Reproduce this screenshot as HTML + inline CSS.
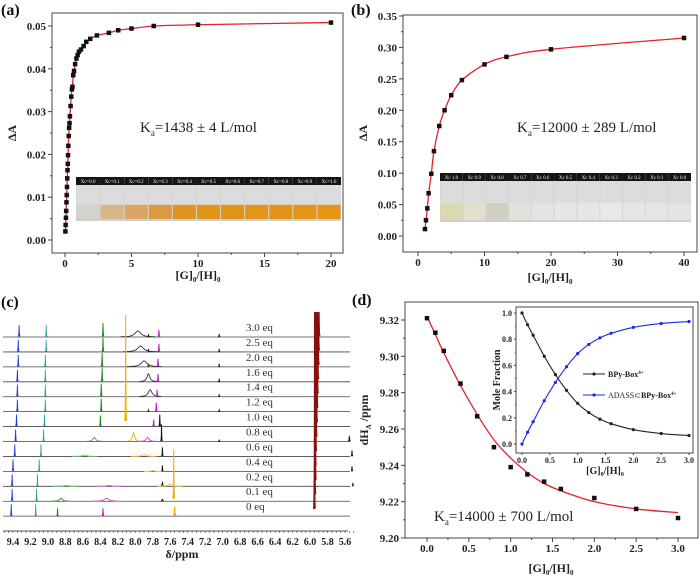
<!DOCTYPE html>
<html><head><meta charset="utf-8">
<style>
html,body{margin:0;padding:0;background:#fff;}
svg{display:block;font-family:"Liberation Serif",serif;}
.tk{font-size:11px;font-weight:bold;fill:#222;}
.tks{font-size:8px;font-weight:bold;fill:#222;}
.ttl{font-size:12px;font-weight:bold;fill:#222;}
.pl{font-size:16px;font-weight:bold;fill:#111;}
.ka{font-size:15px;fill:#222;}
</style></head>
<body>
<svg id="fig" width="700" height="577" viewBox="0 0 700 577"></svg>
<script>
// ---------- data ----------
const aX=[0.03,0.05,0.07,0.09,0.11,0.13,0.15,0.17,0.19,0.21,0.23,0.25,0.28,0.31,0.34,0.37,0.42,0.47,0.52,0.56,0.62,0.68,0.76,0.86,0.95,1.05,1.2,1.4,1.6,1.9,2.4,3.3,4.0,5.0,6.67,10,20];
const aY=[0.002,0.0035,0.0052,0.0068,0.0088,0.0105,0.0124,0.0144,0.0163,0.0178,0.0198,0.022,0.0243,0.0262,0.0273,0.0289,0.0313,0.0335,0.0352,0.0358,0.0385,0.0395,0.0411,0.0424,0.0432,0.0440,0.0445,0.0453,0.0463,0.0470,0.0478,0.0484,0.049,0.0494,0.0500,0.0503,0.0508];
const bX=[1.05,1.2,1.4,1.6,2.0,2.4,3.2,4.0,5.0,6.6,10,13.3,20,40];
const bY=[0.011,0.025,0.044,0.068,0.099,0.135,0.175,0.2,0.224,0.248,0.273,0.285,0.297,0.315];
const dX=[0,0.1,0.2,0.4,0.6,0.8,1.0,1.2,1.4,1.6,2.0,2.5,3.0];
const dY=[9.321,9.313,9.303,9.285,9.267,9.250,9.239,9.235,9.231,9.227,9.222,9.216,9.211];
const dFit=[9.322,9.312,9.302,9.284,9.268,9.254,9.244,9.236,9.230,9.226,9.220,9.216,9.214];
const inBlack=[1.0,0.91,0.83,0.67,0.53,0.41,0.31,0.24,0.19,0.155,0.11,0.08,0.065];
const inBlue=[0.0,0.09,0.17,0.33,0.47,0.59,0.69,0.76,0.81,0.845,0.89,0.92,0.935];
const eqLabels=["3.0 eq","2.5 eq","2.0 eq","1.6 eq","1.4 eq","1.2 eq","1.0 eq","0.8 eq","0.6 eq","0.4 eq","0.2 eq","0.1 eq","0 eq"];
const bluePos=[9.33,9.34,9.34,9.35,9.35,9.35,9.36,9.37,9.38,9.40,9.41,9.41,9.42];
const tealPos=[9.02,9.02,9.03,9.03,9.03,9.03,9.04,9.05,9.08,9.10,9.12,9.13,9.14];
const brownPos=[5.895,5.90,5.905,5.91,5.915,5.92,5.925,5.93,5.935,5.94,5.94,5.945,5.95];
// extra peaks: [row, ppm, height, width, color]
const extraPeaks=[
[0,8.37,14,0.006,"#1a8a1a"],[1,8.37,14,0.006,"#1a8a1a"],[2,8.38,14,0.006,"#1a8a1a"],[3,8.38,14,0.006,"#1a8a1a"],[4,8.39,13,0.006,"#1a8a1a"],[5,8.39,13,0.006,"#1a8a1a"],[6,8.40,11,0.006,"#1a8a1a"],[7,8.47,4,0.02,"#3aa83a"],[8,8.58,1.5,0.03,"#6c6"],[10,8.79,1,0.03,"#6c6"],[11,8.85,3,0.02,"#3a8a3a"],[12,8.89,8,0.006,"#1a8a1a"],
[0,7.97,6,0.04,"#333"],[1,7.94,6,0.04,"#333"],[2,7.90,6,0.04,"#333"],[3,7.85,8,0.02,"#333"],[4,7.83,7,0.025,"#333"],
[0,7.85,3,0.005,"#222"],[1,7.85,3,0.005,"#222"],[2,7.85,3,0.005,"#222"],[5,7.85,2,0.005,"#222"],
[0,7.73,7,0.008,"#c020c0"],[1,7.73,8,0.008,"#c020c0"],[2,7.74,8,0.008,"#c020c0"],[3,7.74,8,0.008,"#c020c0"],[4,7.75,7,0.008,"#c020c0"],[5,7.76,9,0.008,"#c020c0"],[6,7.79,7,0.008,"#c020c0"],[7,7.86,4,0.02,"#c040c0"],[10,8.30,1,0.03,"#d6d"],[11,8.33,3,0.03,"#c4c"],[12,8.37,8,0.007,"#c020c0"],
[6,7.72,12,0.006,"#111"],[7,7.70,17,0.005,"#111"],[8,7.69,9,0.005,"#111"],[9,7.69,6,0.005,"#111"],[10,7.69,4,0.01,"#111"],[11,7.69,2,0.01,"#111"],
[0,7.04,3,0.005,"#111"],[1,7.04,3,0.005,"#111"],[2,7.04,3,0.005,"#111"],[3,7.04,3,0.005,"#111"],[4,7.04,2,0.005,"#111"],[5,7.04,2,0.005,"#111"],[7,7.04,1.5,0.005,"#111"],
[6,8.11,112,0.006,"#f0b000"],[7,8.02,9,0.015,"#f0b000"],[8,7.90,2,0.03,"#f5c040"],[9,7.80,1,0.02,"#f5d060"],[11,7.56,52,0.006,"#f0b000"],[12,7.55,10,0.01,"#f0b000"],[10,7.60,2,0.03,"#f0c040"],
[7,5.55,5,0.008,"#111"],[8,5.52,6,0.006,"#111"],[9,5.52,5,0.006,"#111"],[10,5.51,3,0.006,"#111"]];
const photoA=["Xc=0.0","Xc=0.1","Xc=0.2","Xc=0.3","Xc=0.4","Xc=0.5","Xc=0.6","Xc=0.7","Xc=0.8","Xc=0.9","Xc=1.0"];
const photoAcol=["#d4d2cf","#d9b68a","#dba565","#dc9a40","#de9520","#e09518","#e09418","#e29518","#e29418","#e39518","#e49618"];
const photoB=["Xc 1.0","Xc 0.9","Xc 0.8","Xc 0.7","Xc 0.6","Xc 0.5","Xc 0.4","Xc 0.3","Xc 0.2","Xc 0.1","Xc 0.0"];
const photoBcol=["#dcd8b0","#e2e0cc","#d2d0c2","#e2e2dc","#e4e4e2","#e6e6e6","#e6e6e6","#e8e8e8","#e6e6e6","#e6e6e6","#e4e4e4"];

// ---------- helpers ----------
const NS="http://www.w3.org/2000/svg";
const svg=document.getElementById('fig');
function el(tag,attrs,parent){const e=document.createElementNS(NS,tag);for(const k in attrs)e.setAttribute(k,attrs[k]);(parent||svg).appendChild(e);return e;}
function txt(s,attrs,parent){const e=el('text',attrs,parent);e.textContent=s;return e;}
function lin(d0,d1,r0,r1){return v=>r0+(v-d0)/(d1-d0)*(r1-r0);}
function smooth(pts){let d="M"+pts[0][0]+","+pts[0][1];for(let i=0;i<pts.length-1;i++){const p0=pts[i-1]||pts[i],p1=pts[i],p2=pts[i+1],p3=pts[i+2]||p2;d+=" C"+(p1[0]+(p2[0]-p0[0])/6)+","+(p1[1]+(p2[1]-p0[1])/6)+" "+(p2[0]-(p3[0]-p1[0])/6)+","+(p2[1]-(p3[1]-p1[1])/6)+" "+p2[0]+","+p2[1];}return d;}
function axes(g,fx,fy,box,xt,yt,xmin,ymin,fmtx,fmty,cls,tl){
  const f=el('rect',{x:box[0],y:box[1],width:box[2]-box[0],height:box[3]-box[1],fill:'none',stroke:'#444','stroke-width':1},g);
  
  xt.forEach(v=>{const x=fx(v);el('line',{x1:x,x2:x,y1:box[3],y2:box[3]+tl,stroke:'#444'},g);
    const t=txt(fmtx(v),{x:x,y:box[3]+tl+(cls=='tk'?10:8),'text-anchor':'middle',class:cls},g);});
  xmin.forEach(v=>{const x=fx(v);el('line',{x1:x,x2:x,y1:box[3],y2:box[3]+tl/2,stroke:'#444'},g);});
  yt.forEach(v=>{const y=fy(v);el('line',{x1:box[0]-tl,x2:box[0],y1:y,y2:y,stroke:'#444'},g);
    const t=txt(fmty(v),{x:box[0]-tl-2,y:y+(cls=='tk'?4:3),'text-anchor':'end',class:cls},g);});
  ymin.forEach(v=>{const y=fy(v);el('line',{x1:box[0]-tl/2,x2:box[0],y1:y,y2:y,stroke:'#444'},g);});
}
function sq(g,x,y,s,c){const r=el('rect',{x:x-s/2,y:y-s/2,width:s,height:s,fill:c||'#111'},g);return r;}
function photo(g,x0,y0,w,h,labels,cols,name){
  const pg=el('g',{},g);
  const cw=w/labels.length;
  labels.forEach((l,i)=>{const x=x0+i*cw;
    el('rect',{x:x,y:y0,width:cw,height:h,fill:'#cfcfcf'},pg);
    el('rect',{x:x+0.5,y:y0+8,width:cw-1,height:h*0.45,fill:'#dcdcdc'},pg);
    el('rect',{x:x+0.5,y:y0+8+h*0.45,width:cw-1,height:h-8-h*0.45-2,fill:cols[i]},pg);
    el('rect',{x:x,y:y0,width:cw,height:8,fill:'#151515'},pg);
    txt(l,{x:x+cw/2,y:y0+6,'text-anchor':'middle','font-size':'5px',fill:'#eee'},pg);});
}
// ---------- panel a ----------
(function(){
const g=el('g',{});
const fx=lin(0,20,65,331),fy=lin(0,0.05,240,26);
axes(g,fx,fy,[52,13,343,253],[0,5,10,15,20],[0,0.01,0.02,0.03,0.04,0.05],[2.5,7.5,12.5,17.5],[0.005,0.015,0.025,0.035,0.045],v=>String(v),v=>v.toFixed(2),'tk',4);
photo(g,76,177,265,44,photoA,photoAcol,'vial-photo-a');
const p=el('path',{d:smooth(aX.map((x,i)=>[fx(x),fy(aY[i])])),fill:'none',stroke:'#e8202a','stroke-width':1.3},g);

aX.forEach((x,i)=>{const r=sq(g,fx(x),fy(aY[i]),4.5);});
let t=txt('(a)',{x:1,y:15,class:'pl'},g);
t=txt('',{x:140,y:132,class:'ka'},g);t.innerHTML='K<tspan font-size="9" dy="4">a</tspan><tspan dy="-4">=1438 ± 4 L/mol</tspan>';
t=txt('ΔA',{x:16,y:133,class:'ttl',transform:'rotate(-90 16 133)','text-anchor':'middle'},g);
t=txt('',{x:198,y:279,class:'ttl','text-anchor':'middle'},g);t.innerHTML='[G]<tspan font-size="7" dy="3">0</tspan><tspan dy="-3">/[H]</tspan><tspan font-size="7" dy="3">0</tspan>';
})();
// ---------- panel b ----------
(function(){
const g=el('g',{});
const fx=lin(0,40,418,684),fy=lin(0,0.35,236,16);
axes(g,fx,fy,[403,15,697,252],[0,10,20,30,40],[0,0.05,0.1,0.15,0.2,0.25,0.3,0.35],[5,15,25,35],[0.025,0.075,0.125,0.175,0.225,0.275,0.325],v=>String(v),v=>v.toFixed(2),'tk',4);
photo(g,440,173,251,49,photoB,photoBcol,'vial-photo-b');
const p=el('path',{d:smooth(bX.map((x,i)=>[fx(x),fy(bY[i])])),fill:'none',stroke:'#e8202a','stroke-width':1.3},g);

bX.forEach((x,i)=>{const r=sq(g,fx(x),fy(bY[i]),4.5);});
let t=txt('(b)',{x:351,y:15,class:'pl'},g);
t=txt('',{x:517,y:132,class:'ka'},g);t.innerHTML='K<tspan font-size="9" dy="4">a</tspan><tspan dy="-4">=12000 ± 289 L/mol</tspan>';
t=txt('ΔA',{x:367,y:133,class:'ttl',transform:'rotate(-90 367 133)','text-anchor':'middle'},g);
t=txt('',{x:550,y:281,class:'ttl','text-anchor':'middle'},g);t.innerHTML='[G]<tspan font-size="7" dy="3">0</tspan><tspan dy="-3">/[H]</tspan><tspan font-size="7" dy="3">0</tspan>';
})();
// ---------- panel c ----------
(function(){
const g=el('g',{});
const fx=lin(9.4,5.6,13,345);
const rowY=i=>337+i*14.93;
function peakPath(c,h,w0,base){const w=w0<0.012?w0*0.45:w0;let pts=[];const hw=w<0.012?Math.max(w*4,0.012):w*5;for(let p=c+hw;p>=c-hw;p-=hw/20){const y=base-h/(1+Math.pow((p-c)/w,2));pts.push(fx(p).toFixed(2)+","+y.toFixed(2));}return "M"+pts.join(" L");}
eqLabels.forEach((l,i)=>{const b=rowY(i);
  const ln=el('line',{x1:3,x2:350,y1:b,y2:b,stroke:'#444','stroke-width':0.8},g);
  const t=txt(l,{x:246,y:b-6,'font-size':'11px',fill:'#333'},g);
  [[bluePos[i],12,0.006,'#1a3ae0'],[tealPos[i],12,0.005,'#2aa0a0'],[brownPos[i],b-312,0.005,'#8a1010']].forEach(pk=>{
    const p=el('path',{d:peakPath(pk[0],pk[1],pk[2],b),fill:pk[3],stroke:pk[3],'stroke-width':0.8},g);});
});
extraPeaks.forEach(pk=>{const b=rowY(pk[0]);
  const p=el('path',{d:peakPath(pk[1],pk[2],pk[3],b),fill:pk[2]>4&&pk[3]<0.012?pk[4]:'none',stroke:pk[4],'stroke-width':0.9},g);
  });
el('line',{x1:3,x2:348,y1:531,y2:531,stroke:'#555'},g);
for(let k=0;k<=80;k++){const v=9.5-k*0.05;if(v<5.5)break;const x=fx(v);el('line',{x1:x,x2:x,y1:531,y2:533,stroke:'#555','stroke-width':0.7},g);}
for(let k=0;k<=19;k++){const v=9.4-k*0.2;const t=txt(v.toFixed(1),{x:fx(v),y:545,'text-anchor':'middle','font-size':'10px','font-weight':'bold',fill:'#222'},g);}
let t=txt('δ/ppm',{x:182,y:558,class:'ttl','text-anchor':'middle'},g);
t=txt('(c)',{x:1,y:307,class:'pl'},g);
})();
// ---------- panel d ----------
(function(){
const g=el('g',{});
const fx=lin(0,3,427,678),fy=lin(9.20,9.32,538,320);
axes(g,fx,fy,[405,302,698,538],[0,0.5,1,1.5,2,2.5,3],[9.20,9.22,9.24,9.26,9.28,9.30,9.32],[0.25,0.75,1.25,1.75,2.25,2.75],[9.21,9.23,9.25,9.27,9.29,9.31],v=>v.toFixed(1),v=>v.toFixed(2),'tk',4);
const p=el('path',{d:smooth(dX.map((x,i)=>[fx(x),fy(dFit[i])])),fill:'none',stroke:'#e8202a','stroke-width':1.3},g);

dX.forEach((x,i)=>{const r=sq(g,fx(x),fy(dY[i]),4.5);});
let t=txt('(d)',{x:352,y:305,class:'pl'},g);
t=txt('',{x:434,y:521,class:'ka','font-size':'16px'},g);t.innerHTML='K<tspan font-size="9" dy="4">a</tspan><tspan dy="-4">=14000 ± 700 L/mol</tspan>';
t=txt('',{x:368,y:420,class:'ttl',transform:'rotate(-90 368 420)','text-anchor':'middle'},g);t.innerHTML='dH<tspan font-size="7" dy="3">A</tspan><tspan dy="-3"> /ppm</tspan>';
t=txt('',{x:551,y:572,class:'ttl','text-anchor':'middle'},g);t.innerHTML='[G]<tspan font-size="7" dy="3">0</tspan><tspan dy="-3">/[H]</tspan><tspan font-size="7" dy="3">0</tspan>';
// inset
const ig=el('g',{},g);
el('rect',{x:516,y:307,width:177,height:146,fill:'#fff'},ig);
const ix=lin(0,3,522,689),iy=lin(0,1,444,313);
axes(ig,ix,iy,[516,307,693,453],[0,0.5,1,1.5,2,2.5,3],[0,0.2,0.4,0.6,0.8,1.0],[],[0.1,0.3,0.5,0.7,0.9],v=>v.toFixed(1),v=>v.toFixed(1),'tks',2);
[[inBlack,'#222','series-bpy-box'],[inBlue,'#1a2ae8','series-adass-complex']].forEach(s=>{
  const l=el('path',{d:smooth(dX.map((x,i)=>[ix(x),iy(s[0][i])])),fill:'none',stroke:s[1],'stroke-width':1.1},ig);
  dX.forEach((x,i)=>{const c=el('circle',{cx:ix(x),cy:iy(s[0][i]),r:1.6,fill:s[1]},ig);});});
t=txt('Mole Fraction',{x:500,y:380,'font-size':'10px','font-weight':'bold',fill:'#222',transform:'rotate(-90 500 380)','text-anchor':'middle'},ig);
t=txt('',{x:605,y:474,'font-size':'10px','font-weight':'bold',fill:'#222','text-anchor':'middle'},ig);t.innerHTML='[G]<tspan font-size="6" dy="2">0</tspan><tspan dy="-2">/[H]</tspan><tspan font-size="6" dy="2">0</tspan>';
const lg=el('g',{},ig);
el('line',{x1:583,x2:605,y1:374,y2:374,stroke:'#222'},lg);el('circle',{cx:594,cy:374,r:1.6,fill:'#222'},lg);
txt('',{x:608,y:377,'font-size':'8px',fill:'#222'},lg).innerHTML='<tspan font-weight="bold">BPy-Box</tspan><tspan font-size="5" dy="-3" font-weight="bold">4+</tspan>';
el('line',{x1:583,x2:605,y1:395,y2:395,stroke:'#1a2ae8'},lg);el('circle',{cx:594,cy:395,r:1.6,fill:'#1a2ae8'},lg);
txt('',{x:608,y:398,'font-size':'8px',fill:'#222'},lg).innerHTML='ADASS⊂<tspan font-weight="bold">BPy-Box</tspan><tspan font-size="5" dy="-3" font-weight="bold">4+</tspan>';
})();
</script>
</body></html>
